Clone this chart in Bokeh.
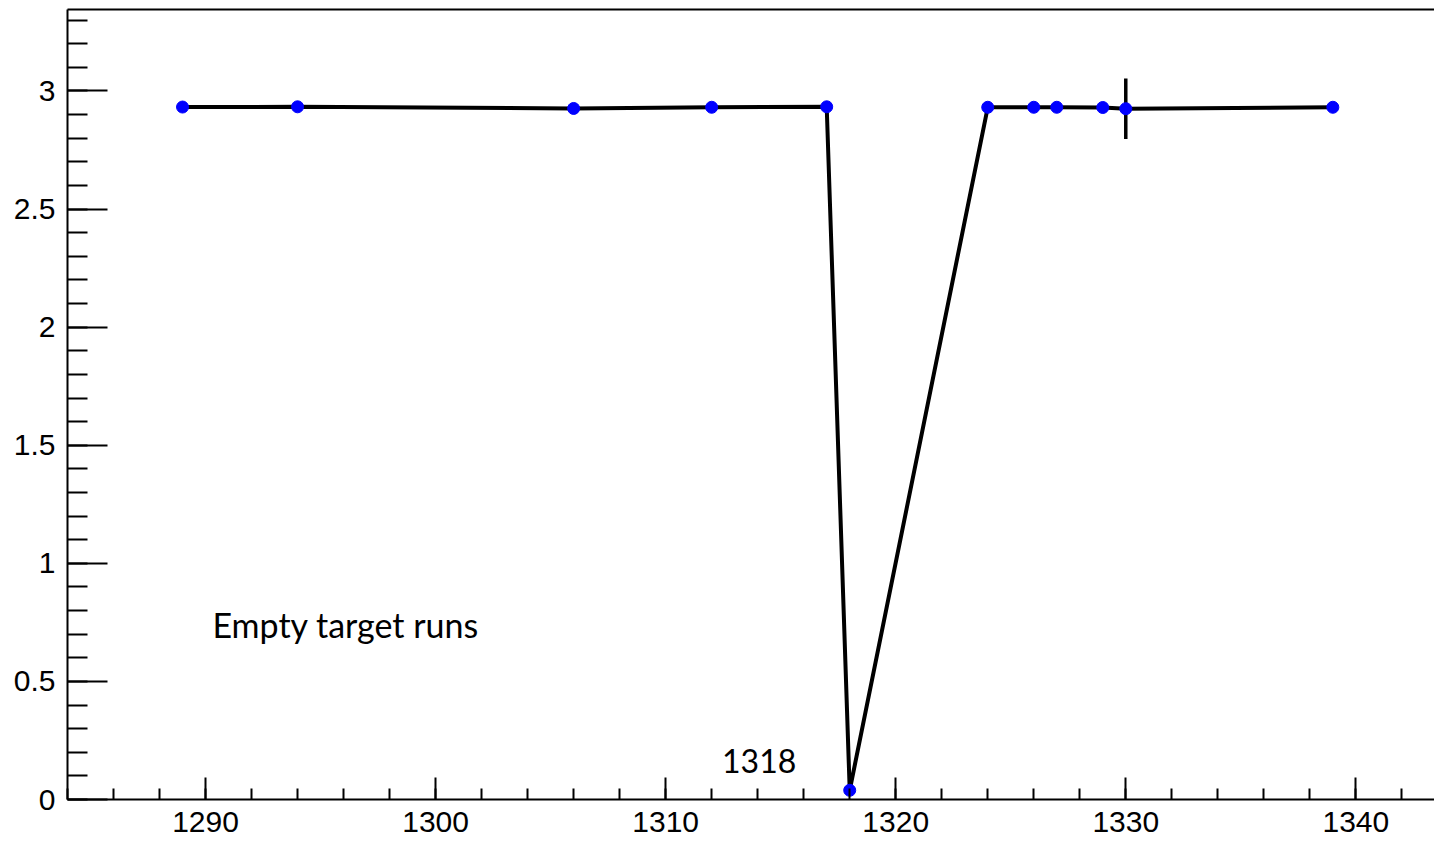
from bokeh.plotting import figure
from bokeh.models import (Range1d, FixedTicker, LinearAxis, ColumnDataSource)
from bokeh.core.properties import value
from bokeh.embed import file_html
from bokeh.resources import INLINE

# ---- data ----
runs = [1289, 1294, 1306, 1312, 1317, 1318, 1324, 1326, 1327, 1329, 1330, 1339]
vals = [2.932, 2.933, 2.926, 2.931, 2.933, 0.039, 2.931, 2.931, 2.931, 2.930, 2.925, 2.931]
errs = [0.0, 0.0, 0.0, 0.0, 0.0, 0.0, 0.0, 0.0, 0.0, 0.0, 0.128, 0.0]
x_major = [1290, 1300, 1310, 1320, 1330, 1340]
x_minor = [1284 + 2 * i for i in range(31)]
y_major = [0, 0.5, 1, 1.5, 2, 2.5, 3]
y_minor = [round(0.1 * i, 1) for i in range(34)]
y_labels = {0: "0", 0.5: "0.5", 1: "1", 1.5: "1.5", 2: "2", 2.5: "2.5", 3: "3"}
label_text = "Empty target runs"
label_x, label_y = 1290.3, 0.741
run_text = "1318"
run_x, run_y = 1312.45, 0.165

src = ColumnDataSource(dict(x=runs, y=vals,
                            lo=[v - e for v, e in zip(vals, errs)],
                            hi=[v + e for v, e in zip(vals, errs)]))

FW = 1367
p = figure(frame_width=FW, frame_height=790, output_backend="svg",
           toolbar_location=None,
           x_range=Range1d(1284, 1284 + FW / 23.006),
           y_range=Range1d(0, 3.345),
           min_border_left=67, min_border_top=9, min_border_right=0,
           min_border_bottom=42)
p.outline_line_color = None
p.grid.visible = False
p.background_fill_color = "white"
p.border_fill_color = "white"

font = "Liberation Sans"
# x axis
xa = p.xaxis[0]
xa.ticker = FixedTicker(ticks=x_major, minor_ticks=x_minor)
xa.major_tick_in = 22
xa.major_tick_out = 0
xa.minor_tick_in = 11
xa.minor_tick_out = 0
xa.axis_line_width = 2
xa.major_tick_line_width = 2
xa.minor_tick_line_width = 2
xa.axis_line_color = "black"
xa.major_tick_line_color = "black"
xa.minor_tick_line_color = "black"
xa.major_label_text_font = font
xa.major_label_text_font_size = "30px"
xa.major_label_text_color = "black"
xa.major_label_standoff = 12

ya = p.yaxis[0]
ya.ticker = FixedTicker(ticks=y_major, minor_ticks=y_minor)
ya.major_label_overrides = y_labels
ya.major_tick_in = 40
ya.major_tick_out = 0
ya.minor_tick_in = 20
ya.minor_tick_out = 0
ya.axis_line_width = 2
ya.major_tick_line_width = 2
ya.minor_tick_line_width = 2
ya.axis_line_color = "black"
ya.major_tick_line_color = "black"
ya.minor_tick_line_color = "black"
ya.major_label_text_font = font
ya.major_label_text_font_size = "30px"
ya.major_label_text_color = "black"
ya.major_label_standoff = 12

top = LinearAxis(ticker=FixedTicker(ticks=[]), major_tick_in=0, major_tick_out=0,
                 minor_tick_in=0, minor_tick_out=0, major_label_standoff=0,
                 axis_line_width=2, axis_line_color="black",
                 major_label_text_font_size="0px")
p.add_layout(top, "above")

p.segment(x0="x", x1="x", y0="lo", y1="hi", source=src, line_color="black", line_width=3.5)
p.line(x="x", y="y", source=src, line_color="black", line_width=4)
p.scatter(x="x", y="y", source=src, size=12, fill_color="blue", line_color="blue")

p.text(x=[label_x], y=[label_y], text=[label_text], text_font=value("Lato"),
       text_font_size="34px", text_baseline="middle", text_align="left",
       text_color="black")
p.text(x=[run_x], y=[run_y], text=[run_text], text_font=value("Lato"),
       text_font_size="32px", text_baseline="middle", text_align="left",
       text_color="black")

open("out.html", "w").write(file_html(p, INLINE))
